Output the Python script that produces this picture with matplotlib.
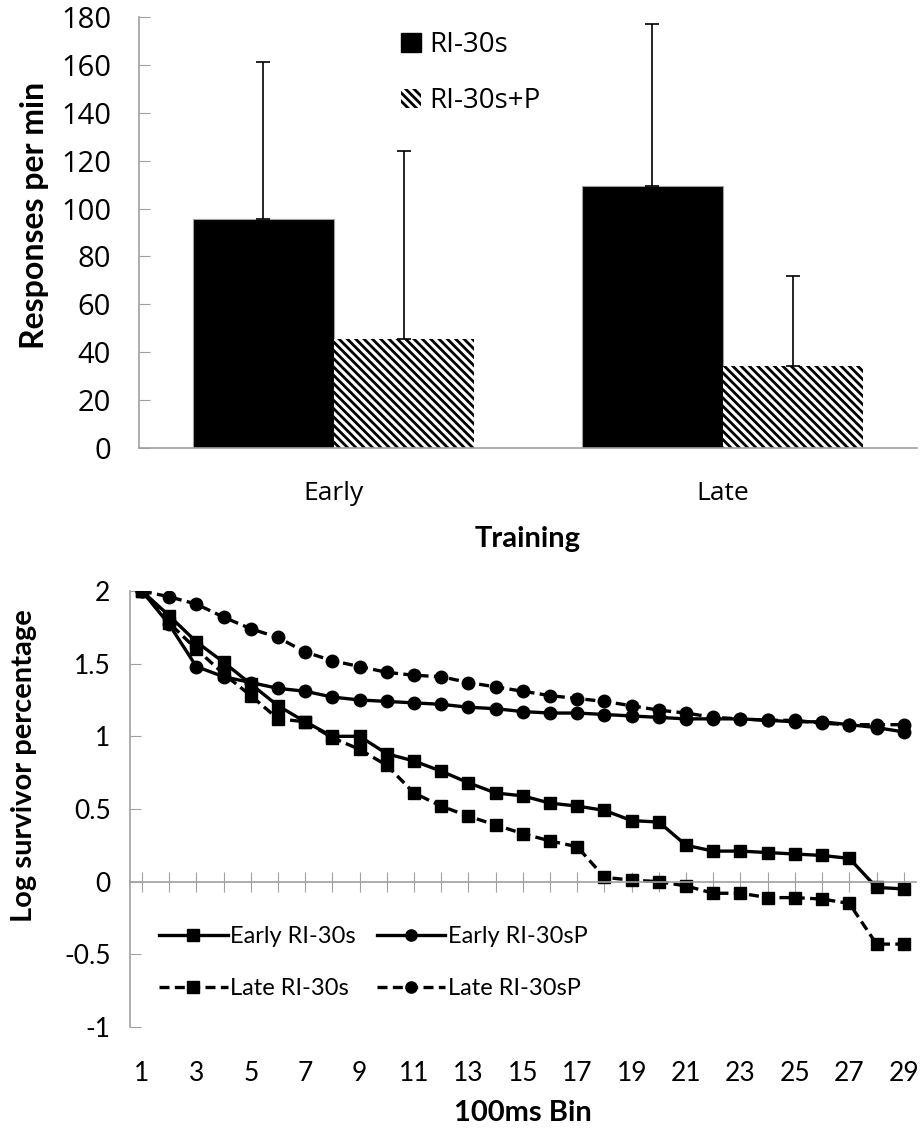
import numpy as np
import matplotlib
matplotlib.use('Agg')
import matplotlib.pyplot as plt
from matplotlib.patches import Patch

# %% data
groups = ['Early', 'Late']
rate_ri30 = [95.6, 109.6]
rate_ri30p = [45.5, 34.4]
sd_ri30 = [65.5, 67.5]
sd_ri30p = [78.5, 37.5]

bins = list(range(1, 30))
early_ri30 = [2.0, 1.83, 1.65, 1.51, 1.36, 1.21, 1.10, 1.00, 1.00, 0.88,
              0.83, 0.76, 0.68, 0.61, 0.59, 0.54, 0.52, 0.49, 0.42, 0.41,
              0.25, 0.21, 0.21, 0.20, 0.19, 0.18, 0.16, -0.04, -0.05]
late_ri30 = [2.0, 1.78, 1.60, 1.43, 1.28, 1.12, 1.10, 0.99, 0.91, 0.80,
             0.61, 0.52, 0.45, 0.39, 0.33, 0.28, 0.24, 0.03, 0.01, 0.00,
             -0.03, -0.08, -0.08, -0.11, -0.11, -0.12, -0.15, -0.43, -0.43]
early_ri30p = [2.0, 1.77, 1.48, 1.41, 1.37, 1.33, 1.31, 1.27, 1.25, 1.24,
               1.23, 1.22, 1.20, 1.19, 1.17, 1.16, 1.16, 1.15, 1.14, 1.13,
               1.12, 1.12, 1.12, 1.11, 1.10, 1.10, 1.08, 1.06, 1.03]
late_ri30p = [2.0, 1.96, 1.91, 1.82, 1.74, 1.68, 1.58, 1.52, 1.48, 1.44,
              1.42, 1.41, 1.37, 1.34, 1.31, 1.28, 1.26, 1.24, 1.21, 1.18,
              1.16, 1.13, 1.12, 1.11, 1.11, 1.09, 1.08, 1.08, 1.08]

GRAY = '#a0a0a0'
SANS = ['Open Sans', 'DejaVu Sans']
COND = ['Lato', 'DejaVu Sans']
plt.rcParams['hatch.linewidth'] = 2.0

fig = plt.figure(figsize=(9.23, 11.33), dpi=100)

# %% top: bar chart
ax = fig.add_axes([0.1506, 0.6046, 0.8429, 0.3804])
x = np.arange(len(groups))
w = 0.36
ax.bar(x - w / 2, rate_ri30, w, color='black', edgecolor=GRAY, linewidth=0.8,
       yerr=[[0, 0], sd_ri30], error_kw=dict(ecolor='black', elinewidth=1.2, capsize=5, capthick=1.2))
ax.bar(x + w / 2, rate_ri30p, w, color='white', edgecolor='black', linewidth=0, hatch='\\\\\\\\',
       yerr=[[0, 0], sd_ri30p], error_kw=dict(ecolor='black', elinewidth=1.2, capsize=5, capthick=1.2))
ax.set_xlim(-0.5, 1.5)
ax.set_ylim(0, 180)
ax.set_yticks(range(0, 181, 20))
ax.set_xticks(x)
ax.set_xticklabels(groups)
ax.tick_params(axis='y', direction='in', length=8, color=GRAY, pad=20,
               labelsize=21, labelfontfamily='Open Sans')
ax.tick_params(axis='x', length=0, pad=24, labelsize=19, labelfontfamily='Open Sans')
for s in ['top', 'right']:
    ax.spines[s].set_visible(False)
for s in ['left', 'bottom']:
    ax.spines[s].set_color(GRAY)
    ax.spines[s].set_linewidth(1.2)
ax.set_ylabel('Responses per min', family=COND, fontsize=23, fontweight='bold')
ax.yaxis.set_label_coords(-0.116, 0.54)
ax.set_xlabel('Training', family=COND, fontsize=21, fontweight='bold', labelpad=14)

leg = ax.legend(handles=[Patch(facecolor='black', edgecolor='black', label='RI-30s'),
                         Patch(facecolor='white', edgecolor='black', hatch='\\\\\\\\', linewidth=0, label='RI-30s+P')],
                loc='upper left', bbox_to_anchor=(0.305, 1.025), frameon=False,
                prop={'family': SANS, 'size': 20}, handlelength=0.7, handleheight=0.7,
                handletextpad=0.3, labelspacing=1.0)

# %% bottom: survivor curves
bx = fig.add_axes([0.1408, 0.0936, 0.8516, 0.3848])
lw = 2.4
dash = (0, (3, 1.6))
bx.plot(bins, early_ri30, color='black', lw=lw, marker='s', ms=9, label='Early RI-30s')
bx.plot(bins, late_ri30, color='black', lw=lw, ls=dash, marker='s', ms=9, label='Late RI-30s')
bx.plot(bins, early_ri30p, color='black', lw=lw, marker='o', ms=9, label='Early RI-30sP')
bx.plot(bins, late_ri30p, color='black', lw=lw, ls=dash, marker='o', ms=9, label='Late RI-30sP')

bx.set_xlim(0.56, 29.45)
bx.set_ylim(-1, 2)
bx.set_yticks([-1, -0.5, 0, 0.5, 1, 1.5, 2])
bx.set_yticklabels(['-1', '-0.5', '0', '0.5', '1', '1.5', '2'])
bx.set_xticks(bins)
bx.set_xticklabels([str(b) if b % 2 == 1 else '' for b in bins])
bx.spines['bottom'].set_position(('data', 0))
for s in ['top', 'right']:
    bx.spines[s].set_visible(False)
for s in ['left', 'bottom']:
    bx.spines[s].set_color(GRAY)
    bx.spines[s].set_linewidth(1.2)
bx.tick_params(axis='y', direction='in', length=8, color=GRAY, pad=14,
               labelsize=19, labelfontfamily='Lato')
bx.tick_params(axis='x', direction='inout', length=14, color=GRAY, pad=122,
               labelsize=19, labelfontfamily='Lato')
bx.set_xlabel('100ms Bin', family=COND, fontsize=21, fontweight='bold', labelpad=10)
bx.set_ylabel('Log survivor percentage', family=COND, fontsize=21, fontweight='bold')
bx.yaxis.set_label_coords(-0.118, 0.6)

h, l = bx.get_legend_handles_labels()
bx.legend(h, l, ncol=2, loc='upper left', bbox_to_anchor=(0.01, 0.28), frameon=False,
          prop={'family': COND, 'size': 17}, handlelength=2.9, handletextpad=0.1,
          columnspacing=0.9, labelspacing=1.3, markerscale=0.9)

fig.savefig('out.png', dpi=100)
